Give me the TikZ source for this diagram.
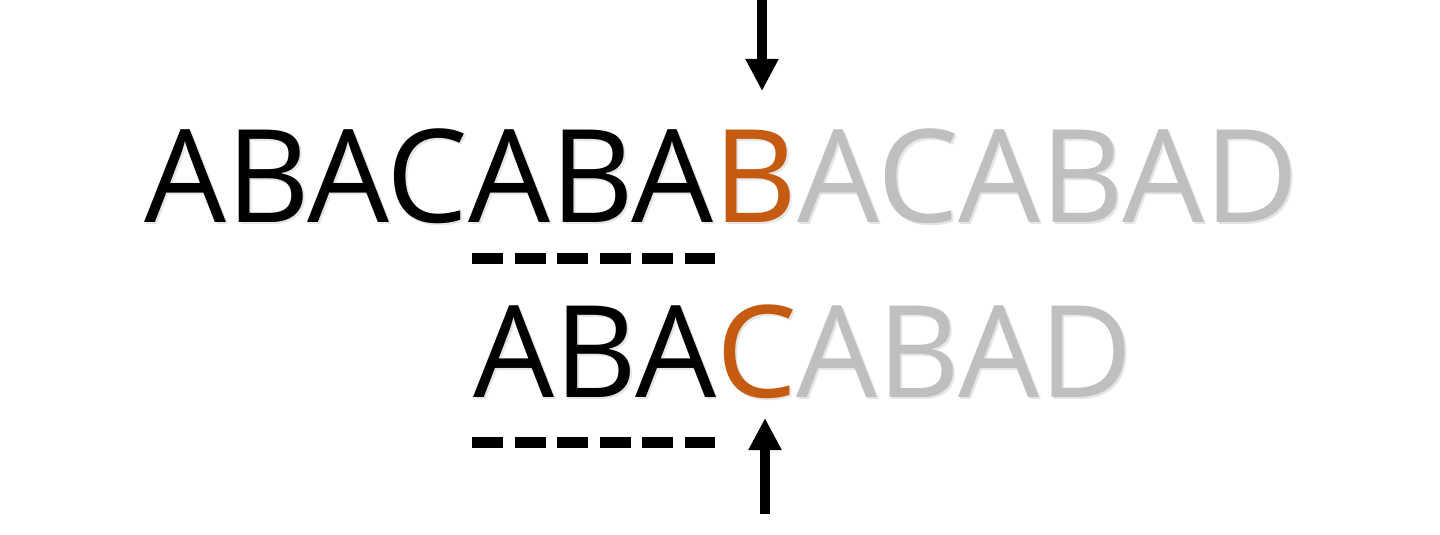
\documentclass[tikz,border=0pt]{standalone}
\usepackage{fontspec}
\setmainfont{Open Sans}
\usetikzlibrary{arrows.meta}
\definecolor{hiorange}{HTML}{C55A11}
\definecolor{lightgray}{HTML}{BFBFBF}
\tikzset{
  word/.style={anchor=base west, inner sep=0pt},
  topfont/.style={font=\fontsize{129.5}{130}\selectfont},
  botfont/.style={font=\fontsize{128}{128}\selectfont},
  shadowword/.style={text=black, opacity=0.10},
  pointer/.style={line width=10pt, -{Triangle[width=31pt,length=32pt]}},
  dashline/.style={line width=11pt, dash pattern=on 31pt off 11.6pt}
}
\newcommand{\toprow}[3]{{\color{#1}ABACABA}{\color{#2}B}{\color{#3}ACABAD}}
\newcommand{\botrow}[3]{{\color{#1}ABA}{\color{#2}C}{\color{#3}ABAD}}
\begin{document}
\begin{tikzpicture}[x=1pt,y=-1pt]
\useasboundingbox[fill=white] (0,0) rectangle (1440,535);
% shadows
\node[word, topfont, shadowword] (topshadow) at (146,224) {\toprow{black}{black}{black}};
\node[word, botfont, shadowword] (botshadow) at (475.5,399) {\botrow{black}{black}{black}};
% rows
\node[word, topfont] (toprow) at (144,222) {\toprow{black}{hiorange}{lightgray}};
\node[word, botfont] (botrow) at (473.5,397) {\botrow{black}{hiorange}{lightgray}};
% dashed lines
\coordinate (d1s) at (472,258);
\coordinate (d1e) at (715,258);
\coordinate (d2s) at (472,442);
\coordinate (d2e) at (715,442);
\draw[dashline] (d1s) -- (d1e);
\draw[dashline] (d2s) -- (d2e);
% arrows
\coordinate (a1s) at (762,0);
\coordinate (a1e) at (762,91);
\coordinate (a2s) at (765,514);
\coordinate (a2e) at (765,418);
\draw[pointer] (a1s) -- (a1e);
\draw[pointer] (a2s) -- (a2e);
\end{tikzpicture}
\end{document}
